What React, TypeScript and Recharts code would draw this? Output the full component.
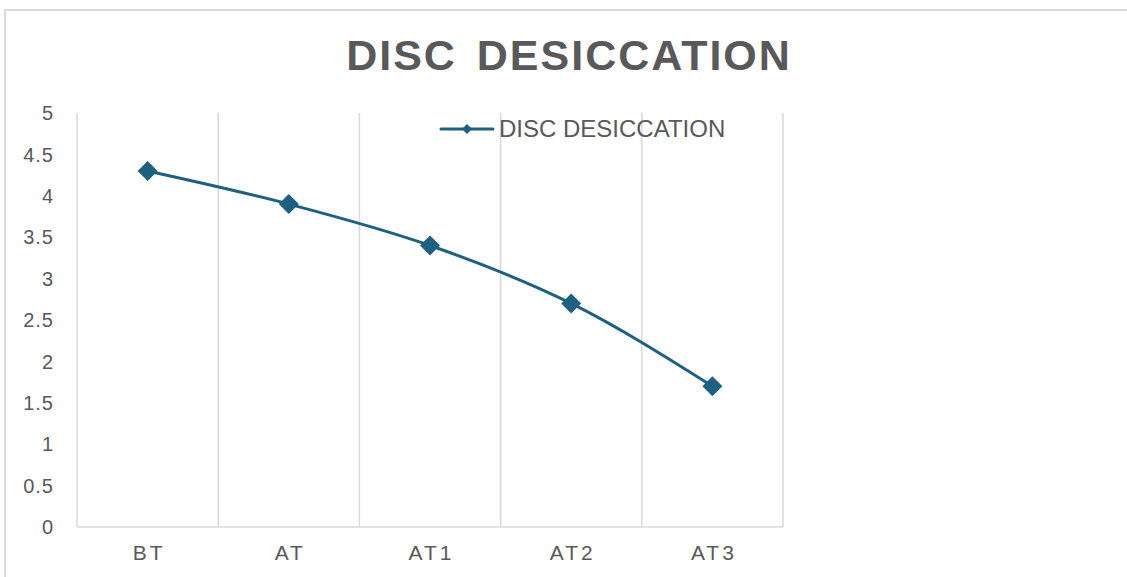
import React from 'react';
import { LineChart, Line, XAxis, YAxis, CartesianGrid, Legend } from 'recharts';

// Disc desiccation score per assessment stage
const categories = ['BT', 'AT', 'AT1', 'AT2', 'AT3'];
const discDesiccation = [4.3, 3.9, 3.4, 2.7, 1.7];
const yTicks = [0, 0.5, 1, 1.5, 2, 2.5, 3, 3.5, 4, 4.5, 5];
const seriesName = 'DISC DESICCATION';
const chartTitle = 'DISC DESICCATION';

const data = categories.map((name, i) => ({ name, value: discDesiccation[i] }));

const LINE_COLOR = '#1d6082';
const TEXT_COLOR = '#595959';
const GRID_COLOR = '#d9d9d9';
const FONT = '"Liberation Sans", Arial, sans-serif';

const Diamond = (props: any) => {
  const { cx, cy, index } = props;
  if (cx == null || cy == null) return null;
  const r = 10;
  return (
    <path
      key={`diamond-${index}`}
      d={`M${cx},${cy - r}L${cx + r},${cy}L${cx},${cy + r}L${cx - r},${cy}Z`}
      fill={LINE_COLOR}
    />
  );
};

const LegendContent = () => (
  <div
    style={{
      display: 'flex',
      alignItems: 'center',
      fontFamily: FONT,
      fontSize: 24,
      lineHeight: '26px',
      color: TEXT_COLOR,
      whiteSpace: 'nowrap',
    }}
  >
    <svg width={56} height={12} style={{ display: 'block' }}>
      <line x1={2} y1={6} x2={54} y2={6} stroke={LINE_COLOR} strokeWidth={3} strokeLinecap="round" />
      <path d="M28,1L33,6L28,11L23,6Z" fill={LINE_COLOR} />
    </svg>
    <span style={{ marginLeft: 4 }}>{seriesName}</span>
  </div>
);

export default function App() {
  return (
    <div
      style={{
        position: 'absolute',
        left: 0,
        top: 0,
        width: 1127,
        height: 577,
        overflow: 'hidden',
        background: '#ffffff',
      }}
    >
      <div
        style={{
          position: 'absolute',
          left: 4,
          top: 9,
          width: 1200,
          height: 700,
          border: `2px solid ${GRID_COLOR}`,
          boxSizing: 'border-box',
        }}
      />
      <div
        style={{
          position: 'absolute',
          left: 0,
          top: 34,
          width: 1138,
          textAlign: 'center',
          fontFamily: FONT,
          fontWeight: 'bold',
          fontSize: 43,
          lineHeight: '43px',
          letterSpacing: 2,
          wordSpacing: 6,
          color: TEXT_COLOR,
          whiteSpace: 'nowrap',
        }}
      >
        {chartTitle}
      </div>
      <div style={{ position: 'absolute', left: 0, top: 0 }}>
        <LineChart
          width={1127}
          height={577}
          data={data}
          margin={{ top: 113, right: 344, bottom: 0, left: 17 }}
        >
          <CartesianGrid
            horizontal={false}
            vertical
            stroke={GRID_COLOR}
            strokeWidth={1.5}
            verticalCoordinatesGenerator={({ offset }: any) =>
              [...categories, ''].map((_, i) => offset.left + (offset.width * i) / categories.length)
            }
          />
          <XAxis
            dataKey="name"
            scale="band"
            height={50}
            interval={0}
            axisLine={{ stroke: GRID_COLOR, strokeWidth: 1.5 }}
            tickLine={false}
            tickSize={0}
            tickMargin={18}
            dx={1.5}
            tick={{ fill: TEXT_COLOR, fontSize: 21, fontFamily: FONT, letterSpacing: 3 }}
          />
          <YAxis
            domain={[0, 5]}
            ticks={yTicks}
            interval={0}
            width={60}
            axisLine={false}
            tickLine={false}
            tickSize={0}
            tickMargin={23}
            tick={{ fill: TEXT_COLOR, fontSize: 20, fontFamily: FONT, letterSpacing: 1 }}
          />
          <Legend
            layout="horizontal"
            verticalAlign="middle"
            align="center"
            content={<LegendContent />}
            wrapperStyle={{ left: 439, top: 116, width: 'auto' }}
          />
          <Line
            dataKey="value"
            name={seriesName}
            type="monotone"
            stroke={LINE_COLOR}
            strokeWidth={3}
            dot={<Diamond />}
            activeDot={false}
            isAnimationActive={false}
          />
        </LineChart>
      </div>
    </div>
  );
}
